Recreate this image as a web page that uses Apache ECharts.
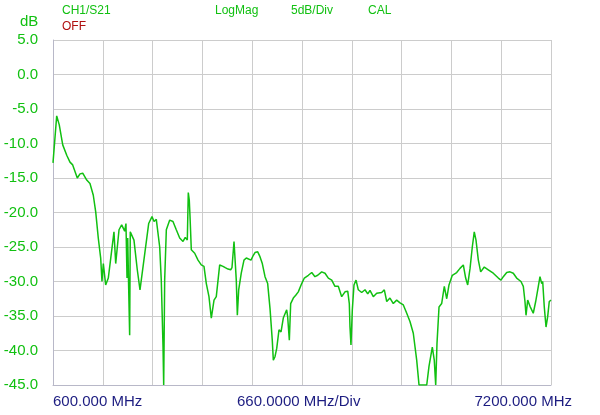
<!DOCTYPE html>
<html>
<head>
<meta charset="utf-8">
<script src="https://cdn.jsdelivr.net/npm/echarts@6/dist/echarts.min.js"></script>
<style>html,body{margin:0;padding:0;background:#fff;}#c{width:600px;height:415px;}</style>
</head>
<body>
<div id="c"></div>
<script>
var freqMHz = [600,649,683,729,782,825,861,922,958,994,1047,1090,1134,1166,1200,1232,1249,1267,1298,1333,1408,1431,1475,1510,1532,1550,1567,1581,1590,1603,1616,1624,1643,1673,1717,1753,1776,1819,1868,1912,1939,1969,2014,2035,2058,2067,2080,2102,2147,2190,2234,2279,2323,2353,2380,2393,2406,2416,2433,2478,2522,2565,2601,2632,2667,2698,2734,2764,2809,2853,2883,2919,2955,2972,2999,3016,3029,3043,3061,3095,3131,3162,3180,3224,3255,3277,3313,3343,3374,3410,3445,3476,3506,3520,3542,3565,3595,3622,3652,3697,3710,3732,3750,3785,3817,3851,3896,3931,3984,4029,4072,4108,4161,4205,4249,4294,4337,4381,4426,4470,4506,4527,4536,4549,4567,4589,4616,4646,4691,4735,4771,4801,4845,4890,4956,4991,5023,5066,5110,5155,5199,5243,5288,5331,5375,5420,5451,5553,5583,5627,5653,5672,5689,5716,5751,5786,5818,5848,5892,5950,5994,6038,6069,6096,6127,6157,6183,6206,6237,6268,6316,6369,6435,6502,6537,6568,6613,6657,6700,6745,6802,6833,6855,6869,6891,6922,6965,6997,7032,7054,7077,7090,7111,7134,7156,7177,7200];
var s21dB = [-12.8,-6.0,-7.3,-10.2,-11.7,-12.7,-13.1,-15.0,-14.4,-14.3,-15.3,-15.8,-17.5,-19.9,-23.7,-26.6,-30.0,-27.4,-30.5,-29.5,-22.8,-27.4,-22.5,-21.8,-21.6,-22.7,-21.6,-29.5,-23.7,-31.0,-37.8,-22.8,-23.0,-24.0,-28.3,-31.2,-31.2,-25.7,-21.6,-20.6,-21.3,-21.0,-25.0,-29.8,-39.4,-45.0,-29.8,-22.5,-21.1,-21.3,-22.5,-23.7,-24.2,-23.6,-24.0,-17.1,-18.2,-20.6,-25.4,-25.9,-26.9,-27.6,-27.8,-30.3,-32.2,-35.3,-32.7,-32.2,-27.6,-27.8,-28.0,-28.2,-28.3,-28.0,-24.2,-24.0,-29.8,-34.9,-31.2,-28.8,-26.9,-26.6,-26.4,-26.9,-26.2,-25.8,-25.7,-26.4,-27.4,-29.3,-30.3,-33.9,-38.5,-41.4,-40.9,-39.7,-37.0,-37.3,-35.3,-34.1,-35.1,-38.5,-33.2,-32.4,-32.0,-31.5,-30.3,-29.5,-29.1,-28.7,-29.3,-29.1,-28.6,-28.8,-29.5,-29.8,-30.7,-30.7,-32.2,-31.5,-31.4,-33.2,-36.6,-39.2,-34.1,-30.5,-29.8,-31.2,-31.6,-31.2,-31.8,-31.3,-32.2,-31.7,-31.6,-31.2,-32.9,-32.4,-33.2,-32.7,-33.1,-33.4,-34.6,-35.8,-37.5,-41.4,-45.0,-45.0,-42.3,-39.5,-41.4,-45.0,-39.0,-33.7,-33.2,-30.7,-32.5,-30.5,-29.1,-28.7,-28.1,-27.6,-29.5,-30.5,-28.1,-25.0,-22.8,-24.0,-26.9,-28.6,-27.9,-28.3,-28.8,-29.5,-29.8,-29.3,-28.7,-28.6,-28.8,-29.5,-30.0,-30.7,-32.9,-34.9,-32.7,-33.6,-34.6,-32.9,-30.7,-29.3,-30.3,-30.0,-33.7,-36.6,-35.1,-32.9,-32.7];
var yTicks = [5,0,-5,-10,-15,-20,-25,-30,-35,-40,-45];
var headerTexts = ['CH1/S21','LogMag','5dB/Div','CAL'];
var statusText = 'OFF';
var yUnit = 'dB';
var xLabels = ['600.000 MHz','660.0000 MHz/Div','7200.000 MHz'];

var green = '#11c011';
var font = 'Liberation Sans, Arial, sans-serif';
var data = freqMHz.map(function(f,i){return [f, s21dB[i]];});

var chart = echarts.init(document.getElementById('c'), null, {renderer:'canvas'});
var hx = [62,215,291,368];
var graphics = headerTexts.map(function(t,i){
  return {type:'text', left:hx[i], top:5, style:{text:t, fill:green, font:'12px ' + font}};
});
graphics.push({type:'text', left:62, top:21, style:{text:statusText, fill:'#b01010', font:'12px ' + font}});
graphics.push({type:'text', left:20, top:14, style:{text:yUnit, fill:green, font:'15px ' + font}});
graphics.push({type:'text', left:53, top:394, style:{text:xLabels[0], fill:'#1c1c80', font:'15px ' + font}});
graphics.push({type:'text', left:237, top:394, style:{text:xLabels[1], fill:'#1c1c80', font:'15px ' + font}});
graphics.push({type:'text', right:28, top:394, style:{text:xLabels[2], fill:'#1c1c80', font:'15px ' + font}});

chart.setOption({
  animation:false,
  backgroundColor:'#ffffff',
  grid:{left:53, right:49, top:40, bottom:30, containLabel:false},
  xAxis:{type:'value', min:600, max:7200, interval:660,
    axisLine:{show:true, onZero:false, lineStyle:{color:'#b8b8c8', width:1}},
    axisTick:{show:false}, axisLabel:{show:false},
    splitLine:{show:true, lineStyle:{color:'#cccccc', width:1}}},
  yAxis:{type:'value', min:-45, max:5, interval:5,
    axisLine:{show:true, lineStyle:{color:'#b8b8c8', width:1}},
    axisTick:{show:false},
    axisLabel:{show:true, margin:15, color:green, fontSize:15, fontFamily:font,
      formatter:function(v){return yTicks.indexOf(v)>=0 ? v.toFixed(1) : '';}},
    splitLine:{show:true, lineStyle:{color:'#cccccc', width:1}}},
  graphic:graphics,
  series:[{type:'line', data:data, showSymbol:false, symbol:'none', clip:true,
    lineStyle:{color:green, width:1.5}, itemStyle:{color:green}}]
});
</script>
</body>
</html>
